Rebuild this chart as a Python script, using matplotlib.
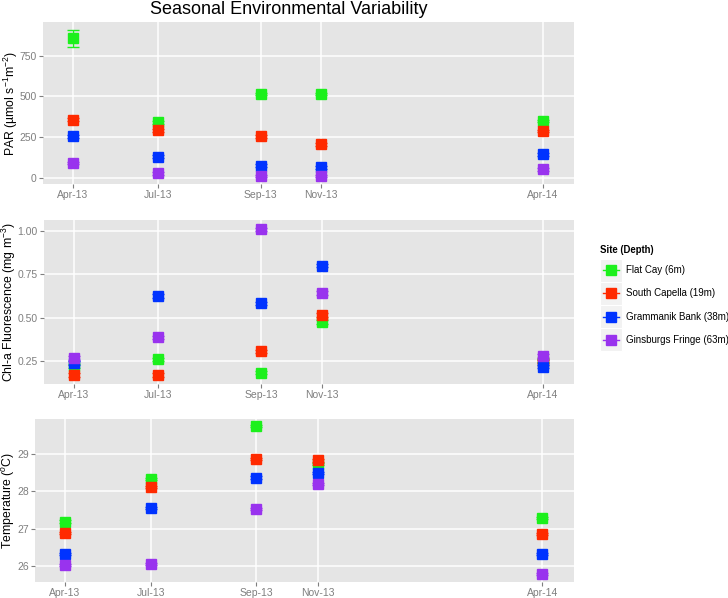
import pandas as pd
import matplotlib
matplotlib.use("Agg")
import matplotlib.pyplot as plt
import matplotlib.dates as mdates
import matplotlib.transforms as mtransforms
from matplotlib.patches import Rectangle
from matplotlib.lines import Line2D

plt.rcParams['font.family'] = ['Liberation Sans', 'DejaVu Sans']
plt.rcParams['mathtext.fontset'] = 'custom'
plt.rcParams['mathtext.rm'] = 'Liberation Sans'
plt.rcParams['mathtext.it'] = 'Liberation Sans:italic'

# sampling dates
dates = ["2013-04-30", "2013-07-05", "2013-09-23", "2013-11-09", "2014-04-30"]
date_labels = ["Apr-13", "Jul-13", "Sep-13", "Nov-13", "Apr-14"]

sites = ["Flat Cay (6m)", "South Capella (19m)", "Grammanik Bank (38m)", "Ginsburgs Fringe (63m)"]
colors = ["#1CF01C", "#FF2A00", "#0033FF", "#9933EE"]

# PAR (umol s-1 m-2), per site, per date
par_flat = [856, 341, 516, 516, 349]
par_capella = [358, 293, 256, 207, 287]
par_grammanik = [256, 130, 75, 65, 145]
par_ginsburgs = [93, 29, 12, 12, 53]
par_err_flat = [53, 8, 8, 8, 8]
par_err_capella = [10, 8, 8, 8, 8]
par_err_grammanik = [8, 8, 8, 8, 8]
par_err_ginsburgs = [8, 8, 8, 8, 8]

# Chl-a fluorescence (mg m-3)
chl_flat = [0.22, 0.258, 0.181, 0.475, 0.25]
chl_capella = [0.166, 0.168, 0.305, 0.514, 0.244]
chl_grammanik = [0.238, 0.624, 0.583, 0.802, 0.215]
chl_ginsburgs = [0.266, 0.385, 1.012, 0.642, 0.277]
chl_err = [0.01, 0.01, 0.01, 0.01, 0.01]

# Temperature (degC)
temp_flat = [27.19, 28.33, 29.75, 28.74, 27.29]
temp_capella = [26.89, 28.12, 28.87, 28.83, 26.85]
temp_grammanik = [26.32, 27.56, 28.37, 28.49, 26.32]
temp_ginsburgs = [26.03, 26.05, 27.52, 28.19, 25.78]
temp_err = [0.03, 0.03, 0.03, 0.03, 0.03]

x = mdates.date2num(pd.to_datetime(dates))
span = x[-1] - x[0]

W, H = 728, 598
fig = plt.figure(figsize=(W / 100, H / 100), dpi=100)


def panel(left, top, right, bottom):
    return fig.add_axes([left / W, 1 - bottom / H, (right - left) / W, (bottom - top) / H])


def style(ax, ylabel, ylim, yticks, fmt, label_x):
    ax.set_facecolor("#E5E5E5")
    for s in ax.spines.values():
        s.set_visible(False)
    ax.grid(True, color="white", lw=1.1)
    ax.set_axisbelow(True)
    ax.set_xlim(x[0] - 0.063 * span, x[-1] + 0.066 * span)
    ax.set_xticks(x)
    ax.set_xticklabels(date_labels)
    ax.set_ylim(*ylim)
    ax.set_yticks(yticks)
    ax.set_yticklabels([fmt.format(v) for v in yticks])
    ax.tick_params(colors="#7F7F7F", labelcolor="#7F7F7F", labelsize=7.5, length=3,
                   width=0.8, pad=1.5)
    ax.set_ylabel(ylabel, fontsize=8.8, va="center")
    trans = mtransforms.blended_transform_factory(fig.transFigure, ax.transAxes)
    ax.yaxis.set_label_coords(label_x / W, 0.5, transform=trans)


def draw(ax, series, errs):
    for i, (vals, err) in enumerate(zip(series, errs)):
        ax.errorbar(x, vals, yerr=err, fmt="s", color=colors[i], mec=colors[i], ms=7,
                    capsize=4.5, elinewidth=1, capthick=1, zorder=3 + i)


ax1 = panel(43, 22, 574, 184)
draw(ax1, [par_flat, par_capella, par_grammanik, par_ginsburgs],
     [par_err_flat, par_err_capella, par_err_grammanik, par_err_ginsburgs])
style(ax1, "PAR (µmol s$^{-1}$m$^{-2}$)", (-37, 957), [0, 250, 500, 750], "{:.0f}", 11)

ax2 = panel(44, 220, 574, 384)
draw(ax2, [chl_flat, chl_capella, chl_grammanik, chl_ginsburgs], [chl_err] * 4)
style(ax2, "Chl-a Fluorescence (mg m$^{-3}$)", (0.115, 1.066), [0.25, 0.5, 0.75, 1.0], "{:.2f}", 9)

ax3 = panel(35, 419, 574, 582)
draw(ax3, [temp_flat, temp_capella, temp_grammanik, temp_ginsburgs], [temp_err] * 4)
style(ax3, "Temperature ($^{o}$C)", (25.57, 29.94), [26, 27, 28, 29], "{:.0f}", 9)

fig.text(289 / W, 1 - 9 / H, "Seasonal Environmental Variability", fontsize=13,
         ha="center", va="center")

# legend drawn by hand (ggplot style keys)
fig.text(600 / W, 1 - 250 / H, "Site (Depth)", fontsize=6.9, fontweight="bold",
         ha="left", va="center")
for i, site in enumerate(sites):
    cy = 270 + i * 23.3
    fig.patches.append(Rectangle((600 / W, 1 - (cy + 11.5) / H), 22 / W, 23 / H,
                                 transform=fig.transFigure, facecolor="#F2F2F2",
                                 edgecolor="white", lw=0.8))
    fig.lines.append(Line2D([603 / W, 619 / W], [1 - cy / H] * 2, transform=fig.transFigure,
                            color=colors[i], lw=1))
    fig.lines.append(Line2D([611 / W], [1 - cy / H], transform=fig.transFigure,
                            marker="s", ms=7, color=colors[i], lw=0))
    fig.text(626 / W, 1 - cy / H, site, fontsize=7, ha="left", va="center")

fig.savefig("out.png", dpi=100)
